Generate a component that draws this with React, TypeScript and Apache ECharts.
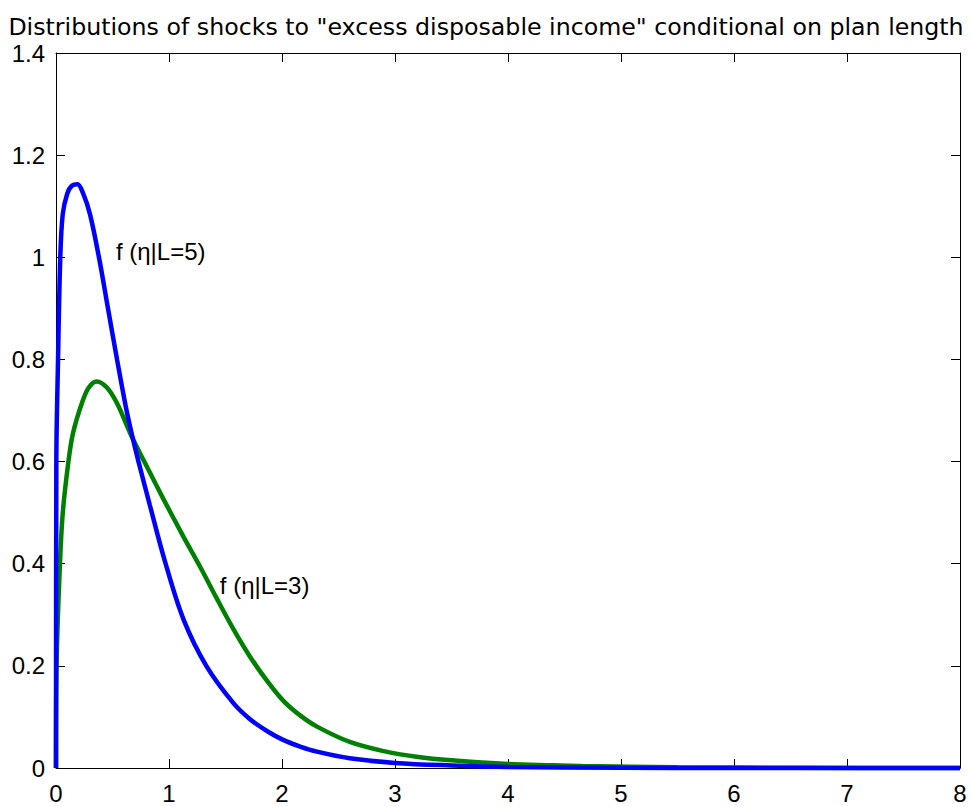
import React, { useEffect, useRef } from 'react';
import * as echarts from 'echarts';

const titleText = 'Distributions of shocks to "excess disposable income" conditional on plan length';

// f(eta | L=5)  (blue)
const etaL5 = [0, 0.003, 0.018, 0.038, 0.06, 0.1, 0.14, 0.19, 0.24, 0.3, 0.38, 0.46, 0.54, 0.62, 0.68, 0.73, 0.83, 0.97, 1.13, 1.33, 1.57, 1.72, 1.87, 2.01, 2.16, 2.31, 2.6, 3.0, 3.5, 4.0, 5.0, 6.0, 7.0, 8.0];
const densL5 = [0, 0.6, 0.8, 1.0, 1.085, 1.125, 1.14, 1.143, 1.125, 1.085, 1.0, 0.9, 0.8, 0.705, 0.645, 0.6, 0.515, 0.4, 0.29, 0.2, 0.127, 0.095, 0.072, 0.055, 0.042, 0.032, 0.019, 0.01, 0.005, 0.002, 0.0005, 0.0001, 0, 0];

// f(eta | L=3)  (green)
const etaL3 = [0, 0.005, 0.035, 0.06, 0.11, 0.15, 0.23, 0.29, 0.36, 0.45, 0.54, 0.67, 0.8, 0.95, 1.13, 1.28, 1.42, 1.57, 1.72, 1.87, 2.01, 2.16, 2.31, 2.6, 2.9, 3.19, 3.5, 4.0, 4.66, 5.5, 6.5, 8.0];
const densL3 = [0, 0.2, 0.4, 0.5, 0.6, 0.655, 0.715, 0.745, 0.757, 0.745, 0.714, 0.649, 0.592, 0.527, 0.452, 0.392, 0.333, 0.272, 0.217, 0.17, 0.132, 0.103, 0.081, 0.051, 0.033, 0.022, 0.015, 0.008, 0.004, 0.0015, 0.0005, 0];

const labelTexts = ['f (η|L=5)', 'f (η|L=3)'];
const labelEta = [0.53, 1.45];
const labelDens = [1.012, 0.358];

const xMin = 0, xMax = 8, xStep = 1;
const yMin = 0, yMax = 1.4, yStep = 0.2;

const FONT = '"Liberation Sans", Arial, Helvetica, sans-serif';

export default function App() {
  const ref = useRef<HTMLDivElement>(null);
  useEffect(() => {
    if (!ref.current) return;
    const chart = echarts.init(ref.current, null, { renderer: 'svg' });
    const pair = (xs: number[], ys: number[]) => xs.map((x, i) => [x, ys[i]]);
    const tick = () => ({ show: true, inside: true, length: 9, lineStyle: { color: '#000', width: 1 } });
    const lineStyleAxis = () => ({ show: true, onZero: false, lineStyle: { color: '#000', width: 1 } });
    const labelStyle = () => ({ color: '#000', fontSize: 24, fontFamily: FONT });
    chart.setOption({
      animation: false,
      backgroundColor: '#fff',
      title: {
        text: titleText,
        left: 'center',
        top: 15,
        padding: 0,
        textStyle: { fontSize: 23.7, fontWeight: 'normal', color: '#000', fontFamily: '"DejaVu Sans", sans-serif' },
      },
      grid: {
        left: 56, right: 12, top: 53, bottom: 39,
        show: false,
        outerBoundsMode: 'none',
      },
      xAxis: [
        {
          type: 'value', min: xMin, max: xMax, interval: xStep, position: 'bottom',
          axisLine: lineStyleAxis(), axisTick: tick(), splitLine: { show: false },
          axisLabel: { ...labelStyle(), margin: 13 },
        },
        {
          type: 'value', min: xMin, max: xMax, interval: xStep, position: 'top',
          axisLine: lineStyleAxis(), axisTick: tick(), splitLine: { show: false },
          axisLabel: { show: false },
        },
      ],
      yAxis: [
        {
          type: 'value', min: yMin, max: yMax, interval: yStep, position: 'left',
          axisLine: lineStyleAxis(), axisTick: tick(), splitLine: { show: false },
          axisLabel: { ...labelStyle(), margin: 11 },
        },
        {
          type: 'value', min: yMin, max: yMax, interval: yStep, position: 'right',
          axisLine: lineStyleAxis(), axisTick: tick(), splitLine: { show: false },
          axisLabel: { show: false },
        },
      ],
      series: [
        {
          name: 'f(η|L=3)', type: 'line', data: pair(etaL3, densL3),
          showSymbol: false, smooth: 0.35, clip: false,
          lineStyle: { color: '#008000', width: 4.5 }, itemStyle: { color: '#008000' }, z: 2,
        },
        {
          name: 'f(η|L=5)', type: 'line', data: pair(etaL5, densL5),
          showSymbol: false, smooth: 0.35, clip: false,
          lineStyle: { color: '#0000ff', width: 4.5 }, itemStyle: { color: '#0000ff' }, z: 3,
        },
      ],
    });
    const elements = labelTexts.map((t, i) => {
      const p = chart.convertToPixel({ seriesIndex: 0 }, [labelEta[i], labelDens[i]]) as number[];
      return {
        type: 'text', x: p[0], y: p[1], z: 10,
        style: { text: t, fontSize: 24, fontFamily: FONT, fill: '#000', textAlign: 'left', textVerticalAlign: 'middle' },
      };
    });
    chart.setOption({ graphic: elements });
    return () => chart.dispose();
  }, []);
  return <div ref={ref} style={{ position: 'fixed', left: 0, top: 0, width: 972, height: 807 }} />;
}
